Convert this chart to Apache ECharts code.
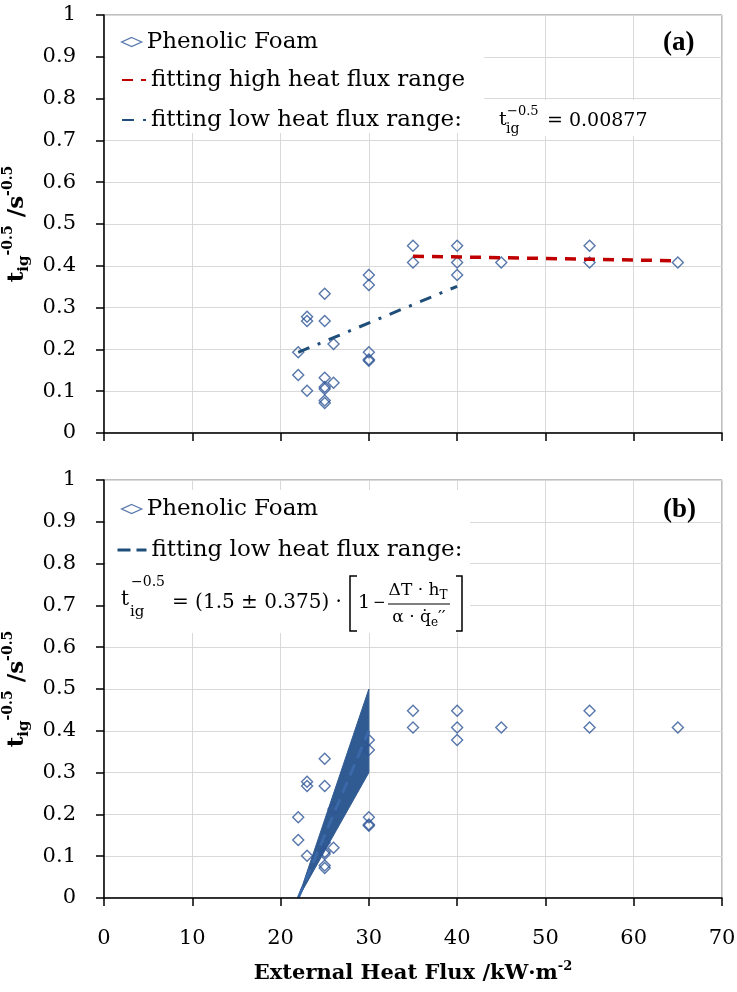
<!DOCTYPE html>
<html><head><meta charset="utf-8">
<script src="https://cdn.jsdelivr.net/npm/echarts@6/dist/echarts.min.js"></script>
<style>html,body{margin:0;padding:0;background:#fff}#c{width:737px;height:992px}</style>
</head><body><div id="c"></div>
<script>
// ---- data ----
const xTickLabels = ['0','10','20','30','40','50','60','70'];
const yTickLabels = ['0','0.1','0.2','0.3','0.4','0.5','0.6','0.7','0.8','0.9','1'];
const fluxPF = [22,22,23,23,23,25,25,25,25,25,25,25,26,26,30,30,30,30,30,35,35,40,40,40,45,55,55,65];
const tigPF  = [0.193,0.139,0.278,0.268,0.101,0.333,0.268,0.132,0.110,0.105,0.078,0.072,0.213,0.120,0.378,0.354,0.193,0.176,0.173,0.448,0.408,0.448,0.408,0.378,0.408,0.448,0.408,0.408];
const highFitX = [35, 65];
const highFitY = [0.423, 0.412];
const lowFitX = [22, 40];
const lowFitY = [0.193, 0.351];
const bandX      = [22, 30];
const bandLower  = [0, 0.300];
const bandCenter = [0, 0.400];
const bandUpper  = [0, 0.500];
const seriesNames = ['Phenolic Foam', 'fitting high heat flux range', 'fitting low heat flux range:'];

// ---- styles ----
const FONT = 'DejaVu Serif';
const BLUE = '#2e5596';
const DKBLUE = '#1f4e79';
const RED = '#c00000';
const NONE = 'rgba(0,0,0,0)';
const zip = (a, b) => a.map((v, i) => [v, b[i]]);

const chart = echarts.init(document.getElementById('c'));

function yAxisCfg(gi) {
  return {
    type: 'value', gridIndex: gi, min: 0, max: 1, interval: 0.1, z: 5,
    name: '{t|t}{sub|ig}{sup|-0.5}{t| /s}{sup|-0.5}',
    nameLocation: 'middle', nameGap: 55, nameRotate: 90,
    nameTextStyle: {
      color: '#000',
      rich: {
        t: { fontFamily: FONT, fontWeight: 'bold', fontSize: 23, lineHeight: 30, color: '#000' },
        sub: { fontFamily: FONT, fontWeight: 'bold', fontSize: 15, lineHeight: 17, verticalAlign: 'bottom', color: '#000' },
        sup: { fontFamily: FONT, fontWeight: 'bold', fontSize: 14, lineHeight: 16, verticalAlign: 'top', color: '#000' }
      }
    },
    axisLine: { show: true, lineStyle: { color: '#000', width: 1.5 } },
    axisTick: { show: true, length: 8, inside: false, lineStyle: { color: '#000', width: 1.5 } },
    axisLabel: { color: '#000', fontFamily: FONT, fontSize: 21, margin: 28,
      formatter: v => yTickLabels[Math.round(v * 10)] },
    splitLine: { show: false }
  };
}
function xAxisCfg(gi, labels) {
  const a = {
    type: 'value', gridIndex: gi, min: 0, max: 70, interval: 10, z: 5,
    axisLine: { show: true, onZero: false, lineStyle: { color: '#000', width: 1.5 } },
    axisTick: { show: true, length: 8, inside: false, lineStyle: { color: '#000', width: 1.5 } },
    axisLabel: { show: labels, color: '#000', fontFamily: FONT, fontSize: 21, margin: 30,
      formatter: v => xTickLabels[Math.round(v / 10)] },
    splitLine: { show: false }
  };
  if (labels) {
    a.name = '{b|External Heat Flux /kW·m}{s|-2}';
    a.nameLocation = 'middle';
    a.nameGap = 62;
    a.nameTextStyle = { rich: {
      b: { fontFamily: FONT, fontWeight: 'bold', fontSize: 21, lineHeight: 28, color: '#000' },
      s: { fontFamily: FONT, fontWeight: 'bold', fontSize: 13, lineHeight: 14, verticalAlign: 'top', color: '#000' }
    } };
  }
  return a;
}
// grid lines drawn by separate label-less axes at low z so legend boxes can cover them
function gridLineAxis(gi, isX) {
  return {
    type: 'value', gridIndex: gi, min: 0, max: isX ? 70 : 1, interval: isX ? 10 : 0.1, z: 0,
    axisLine: { show: false }, axisTick: { show: false }, axisLabel: { show: false },
    splitLine: { show: true, lineStyle: { color: '#d9d9d9', width: 1 } }
  };
}

const legendText = { fontFamily: FONT, fontSize: 23, color: '#000', lineHeight: 26 };
function legendCfg(item, left, centerY, w, h) {
  return { data: [item], left: left, top: centerY - 13, orient: 'vertical', padding: 0,
    itemWidth: w, itemHeight: h, selectedMode: false, textStyle: legendText, z: 10 };
}
const diamondLegendItem = { name: seriesNames[0], icon: 'diamond',
  itemStyle: { color: NONE, borderColor: BLUE, borderWidth: 1.3 } };
const hideSym = { color: NONE, borderColor: NONE, borderWidth: 0 };

// first legend of each panel carries the white box that hides the grid lines behind the legend
const legTopA = legendCfg(diamondLegendItem, 106, 42, 20, 9);
legTopA.top = 16; legTopA.padding = [13, 166, 78, 15]; legTopA.backgroundColor = '#fff'; legTopA.z = 9;
const legTopB = legendCfg(diamondLegendItem, 106, 509, 20, 9);
legTopB.top = 490; legTopB.padding = [6, 152, 111, 15]; legTopB.backgroundColor = '#fff'; legTopB.z = 9;

function txt(text, x, y, size) {
  return { type: 'text', x: x, y: y, z: 20,
    style: { text: text, fontFamily: FONT, fontSize: size, fill: '#000', align: 'left', verticalAlign: 'middle' } };
}
function poly(points, w) {
  return { type: 'polyline', z: 20, shape: { points: points }, style: { stroke: '#000', lineWidth: w, fill: null } };
}

const option = {
  backgroundColor: '#fff',
  animation: false,
  grid: [
    { left: 104, right: 15, top: 15, height: 418, containLabel: false, outerBoundsMode: 'none',
      show: true, borderColor: '#7f7f7f', borderWidth: 1, z: 0 },
    { left: 104, right: 15, top: 480, height: 418, containLabel: false, outerBoundsMode: 'none',
      show: true, borderColor: '#7f7f7f', borderWidth: 1, z: 0 }
  ],
  xAxis: [xAxisCfg(0, false), xAxisCfg(1, true), gridLineAxis(0, true), gridLineAxis(1, true)],
  yAxis: [yAxisCfg(0), yAxisCfg(1), gridLineAxis(0, false), gridLineAxis(1, false)],
  legend: [
    legTopA,
    legendCfg({ name: seriesNames[1], itemStyle: hideSym }, 121, 80, 24, 12),
    legendCfg({ name: seriesNames[2], itemStyle: hideSym }, 121, 120, 24, 12),
    legTopB,
    legendCfg({ name: seriesNames[2], itemStyle: hideSym, lineStyle: { type: [13, 6], color: DKBLUE, width: 3 } }, 116, 550, 29, 12)
  ],
  series: [
    { name: seriesNames[0], type: 'scatter', xAxisIndex: 0, yAxisIndex: 0, z: 3,
      data: zip(fluxPF, tigPF), symbol: 'diamond', symbolSize: 11, symbolKeepAspect: true,
      itemStyle: { color: NONE, borderColor: BLUE, borderWidth: 1.4 } },
    { name: seriesNames[1], type: 'line', xAxisIndex: 0, yAxisIndex: 0, z: 4,
      data: zip(highFitX, highFitY), symbol: 'none', itemStyle: { color: RED },
      lineStyle: { color: RED, width: 3.5, type: [11, 8] } },
    { name: seriesNames[2], type: 'line', xAxisIndex: 0, yAxisIndex: 0, z: 4,
      data: zip(lowFitX, lowFitY), symbol: 'none', itemStyle: { color: DKBLUE },
      lineStyle: { color: DKBLUE, width: 3, type: [12, 9, 3, 9] } },
    { name: 'band', type: 'custom', xAxisIndex: 1, yAxisIndex: 1, z: 2,
      data: bandX.map((x, i) => [x, bandLower[i], bandUpper[i]]),
      encode: { x: 0, y: [1, 2] },
      renderItem: function (params, api) {
        if (params.dataIndex !== 0) return null;
        const pts = [];
        for (let i = 0; i < bandX.length; i++) pts.push(api.coord([bandX[i], bandUpper[i]]));
        for (let i = bandX.length - 1; i >= 0; i--) pts.push(api.coord([bandX[i], bandLower[i]]));
        return { type: 'polygon', shape: { points: pts },
          style: { fill: '#2f5a92', stroke: '#2f5a92', lineWidth: 1 } };
      } },
    { name: seriesNames[0], type: 'scatter', xAxisIndex: 1, yAxisIndex: 1, z: 3,
      data: zip(fluxPF, tigPF), symbol: 'diamond', symbolSize: 11, symbolKeepAspect: true,
      itemStyle: { color: NONE, borderColor: BLUE, borderWidth: 1.4 } },
    { name: seriesNames[2], type: 'line', xAxisIndex: 1, yAxisIndex: 1, z: 4,
      data: zip(bandX, bandCenter), symbol: 'none', itemStyle: { color: DKBLUE },
      lineStyle: { color: '#3a68a8', width: 3, type: [12, 7] } }
  ],
  graphic: [
    { type: 'rect', z: 1, shape: { x: 492, y: 100, width: 168, height: 36 }, style: { fill: '#fff' } },
    // panel labels
    { type: 'text', x: 663, y: 43, z: 20, style: { text: '(a)', fontFamily: 'Liberation Serif', fontWeight: 'bold', fontSize: 27, fill: '#000', align: 'left', verticalAlign: 'middle' } },
    { type: 'text', x: 663, y: 510, z: 20, style: { text: '(b)', fontFamily: 'Liberation Serif', fontWeight: 'bold', fontSize: 27, fill: '#000', align: 'left', verticalAlign: 'middle' } },
    // top formula
    txt('t', 499, 120, 19),
    txt('ig', 506, 129, 14),
    txt('\u22120.5', 507, 112, 13),
    txt('= 0.00877', 547, 121, 19),
    // bottom formula
    txt('t', 121, 600, 20),
    txt('ig', 130, 612, 15),
    txt('\u22120.5', 131, 582, 14),
    txt('= (1.5 \u00b1 0.375) \u00b7', 172, 603, 20),
    poly([[357, 576], [350, 576], [350, 631], [357, 631]], 1.5),
    txt('1', 358, 603, 19),
    txt('\u2212', 373, 603, 15),
    { type: 'text', x: 418, y: 591, z: 20, style: { text: '{m|\u0394T \u00b7 h}{s|T}', align: 'center', verticalAlign: 'middle',
      rich: { m: { fontFamily: FONT, fontSize: 17, fill: '#000', lineHeight: 22 },
              s: { fontFamily: FONT, fontSize: 12, fill: '#000', lineHeight: 14, verticalAlign: 'bottom' } } } },
    poly([[388, 604], [450, 604]], 1),
    { type: 'text', x: 419, y: 618, z: 20, style: { text: '{m|\u03b1 \u00b7 q\u0307}{s|e}{m|\u2032\u2032}', align: 'center', verticalAlign: 'middle',
      rich: { m: { fontFamily: FONT, fontSize: 17, fill: '#000', lineHeight: 22 },
              s: { fontFamily: FONT, fontSize: 12, fill: '#000', lineHeight: 14, verticalAlign: 'bottom' } } } },
    poly([[456, 576], [462, 576], [462, 631], [456, 631]], 1.5)
  ]
};
chart.setOption(option);
</script></body></html>
